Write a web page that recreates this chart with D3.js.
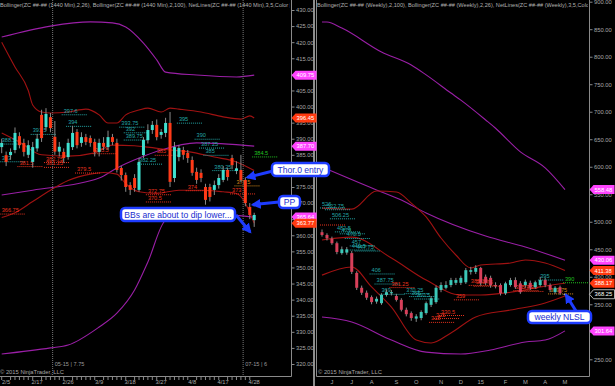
<!DOCTYPE html>
<html><head><meta charset="utf-8">
<script src="https://cdn.jsdelivr.net/npm/d3@7"></script>
<style>
body{margin:0;background:#000;}
svg{display:block;font-family:"Liberation Sans",Arial,sans-serif;}
</style></head>
<body><svg id="chart" width="615" height="386"></svg>
<script>
// ---- daily (1440 min) panel ----
const days = ['2/4','2/5','2/6','2/9','2/10','2/11','2/12','2/13','2/17','2/18','2/19','2/20','2/23','2/24','2/25','2/26','2/27',
  '3/2','3/3','3/4','3/5','3/6','3/9','3/10','3/11','3/12','3/13','3/16','3/17','3/18','3/19','3/20','3/23','3/24','3/25','3/26','3/27',
  '3/30','3/31','4/1','4/2','4/6','4/7','4/8','4/9','4/10','4/13','4/14','4/15','4/16','4/17','4/20','4/21','4/22','4/23','4/24','4/27','4/28'];
const dOpen  = [387.4,384.9,384.9,386.5,390.8,388.7,385,382.8,387,397.4,393.6,396.7,390.6,386,385.9,384.3,387.4,392.1,388.7,390.5,390.2,389,385.9,388.7,387.4,390.5,388.7,380.9,378.7,375.6,377.8,374.1,384.9,389.6,392.7,394.3,391.2,391.8,394.9,377.8,384.3,386.5,385.6,383.4,379.7,379.4,375,375,374.1,375.6,377.2,380.3,384,380,380.3,377.2,368.8,364.7];
const dHigh  = [390,386,387,393.5,392,390,389.5,389,391.5,399,399.5,398,395.5,389,387,390,394,393,392,391.5,391,390,390,390.5,392.5,391.5,390,381.5,379.5,376.5,379,384,390.5,394.5,395.5,396,393,396.5,398.3,389,388,387.5,386.5,384.5,381,380.5,376,376,377,379,381.5,381,385,383,385,378,370,367];
const dLow   = [385.5,381.5,383.5,385.5,387,384.5,384,381,386,389,392.5,392,385,384.5,382.5,383.5,386.5,387,387.5,388,387.5,384.5,384.5,386.5,386.5,388,379.5,377,373.5,372.5,373.5,373.5,384,388.5,391.5,389.5,390,390.5,375,376.5,383,383.5,382.5,378.5,376,376.5,369.5,370.5,372.5,374.5,376.5,377,380.5,379,376.5,369,365,362.6];
const dClose = [388.7,382.8,385.9,391.8,388,385.9,388,387.4,390,390.2,397.7,393.3,386,387.5,384,388.7,391.8,388,390.5,389,388.7,385.9,388.7,387.5,390.5,389,380.3,378.7,375,374.1,374.7,382.8,389.6,392.7,394.3,390.5,392.1,394.9,376.6,387.4,387.1,385,384,379.4,377.2,377.8,371,371.9,375.6,377.8,380.3,378.1,381.8,380.8,377.2,370,366.3,366.3];
const dayTicks = ['2/5','2/17','2/26','3/9','3/18','3/27','4/8','4/17','4/28'];
const rollAfter = ['2/20','4/23'];
const rollText = ['05-15 | 7.75','07-15 | 6'];

// bollinger knots, daily (bar index, value)
const d26UpIdx = [0,3,6,7,9,11,15,19,22,24,26,28,31,33,36,38,40,45,50,54,56,57];
const d26Up    = [420,412.3,405,400.5,398.3,398,398.3,399.2,397.4,394.9,394.9,397.4,398.9,399.5,398.3,399.5,399.2,398.3,396.8,396.1,397.1,396.45];
const d26MidIdx = [0,4,9,15,21,25,30,33,38,42,48,53,56,57];
const d26Mid    = [391.8,389,385,384.6,385.6,388,387.8,387.4,386.5,386,384.3,382.8,380.8,380.1];
const d26LoIdx = [0,3,7,11,15,20,23,26,28,31,35,40,45,50,53,55,56,57];
const d26Lo    = [365.5,367,370.5,374,377,379,379.5,379,376,373.5,373,374,374,373.5,373,370,367,363.77];
const d100UpIdx = [0,11,20,25,28,32,35,37,44,53,57];
const d100Up    = [421.6,425,426.3,426,424.7,419.7,414.5,410.7,409.8,409.2,409.75];
const d100MidIdx = [0,7,22,26,31,36,44,57];
const d100Mid    = [372.5,374,377.8,380.9,384,386.5,388.7,387.7];
const d100LoIdx = [0,11,15,22,26,30,33,37,40,45,50,57];
const d100Lo    = [323.1,325,325.9,331.5,335.8,343,351.7,364.7,366,367,366.5,365.64];

// net lines, daily
const dNetVal   = [397.6,394,391.5,393.75,392,389.75,395,390,387.25,385,382.25,380.25,388.5,383,
                   381.5,382.75,381.25,385.5,379.5,385,372.75,370.5,374,373,366.75,375.5,384.5];
const dNetStart = [14,15,7,27,28,28,40,44,45,46,31,48,0,0,
                   4,10,10,21,17,35,33,33,42,52,0,53,57];
const dNetKind  = ['r','r','r','r','r','r','r','r','r','r','r','r','r','r',
                   's','s','s','s','s','s','s','s','s','s','s','o','g'];

// ---- weekly panel ----
const weeks = ['2014-05-23','2014-05-30','2014-06-06','2014-06-13','2014-06-20','2014-06-27','2014-07-04','2014-07-11','2014-07-18','2014-07-25',
  '2014-08-01','2014-08-08','2014-08-15','2014-08-22','2014-08-29','2014-09-05','2014-09-12','2014-09-19','2014-09-26','2014-10-03',
  '2014-10-10','2014-10-17','2014-10-24','2014-10-31','2014-11-07','2014-11-14','2014-11-21','2014-11-28','2014-12-05','2014-12-12',
  '2014-12-19','2014-12-26','2015-01-02','2015-01-09','2015-01-16','2015-01-23','2015-01-30','2015-02-06','2015-02-13','2015-02-20',
  '2015-02-27','2015-03-06','2015-03-13','2015-03-20','2015-03-27','2015-04-03','2015-04-10','2015-04-17','2015-04-24','2015-05-01'];
const wOpen  = [481,476,469,461,443,444,443,407,380,371,363,355,352,367,370,365,358,340,334,324,325,334,349,354,376,380,385,389,389,390,409,409,416,400,398,385,385,370,385,394,388,385,389,381,385,394,385,372,381,368.5];
const wHigh  = [486,479,473,464,455,454,447,410,384,375,366,364,370,377,376,369,361,344,337,332,339,355,365,384,390,392,398,398,402,416,418,421,418,404,402,390,388,391,398,399,392,395,393,393,400,398,388,383,384,370];
const wLow   = [473,466,458,441,440,440,405,376,367,358,350,351,349,364,366,355,337,328,320,318,321,331,345,351,372,377,381,385,385,387,404,405,384,385,380,379,366,367,382,378,369,380,376,378,382,381,372,369,367,366];
const wClose = [476,470,461,445,450,450,409,380,371,362,354,360,367,372,372,358,340,332,325,328,336,352,361,380,385,385,394,394,398,412,412,416,389,389,385,383,370,388,394,381,372,391,380,390,394,385,376,380,370,368.25];
const monthTickWeeks  = ['2014-06-06','2014-07-04','2014-08-01','2014-09-05','2014-10-03','2014-11-07','2014-12-05','2015-01-02','2015-02-06','2015-03-06','2015-04-03','2015-05-01'];
const monthTickLabels = ['J','J','A','S','O','N','D','15','F','M','A','M'];

const w100UpIdx = [0,1,4,12,18,21,26,28,33,35,40,45,49];
const w100Up    = [863,863,852,808.6,785,767,734,721,685,670,627,598,558.48];
const w100MidIdx = [0,11,16,21,33,41,49];
const w100Mid    = [599.5,557.8,539.6,516,474,454.2,430.06];
const w100LoIdx = [0,6,14,21,28,34,41,45,49];
const w100Lo    = [326.9,317.8,285,263,259.6,267,281.5,285,301.64];
const w26UpIdx = [0,6,11,15,18,21,24,27,30,32,38,41,45,49];
const w26Up    = [524.8,523,556,554,534,508.7,470.5,439.6,416,421.4,425,430.5,425,411.38];
const w26MidIdx = [0,6,14,21,28,32,38,45,49];
const w26Mid    = [466.9,472,434,394,367,367,372,383,388.17];
const w26LoIdx = [0,6,10,14,19,22,26,31,38,45,49];
const w26Lo    = [403,417.8,381.5,345,285,279.7,297.9,327,339.6,352.4,364.96];

const wNetVal   = [526,522.75,506.25,482.5,479,470.5,457,449.5,447.75,406,387.75,369,370.25,365,360.5,395,
                   495,381.25,330.5,325,318,359,385.25,383.75,375.75,374.25,369.75,390];
const wNetStart = [0,1,2,3,4,5,6,6,7,10,11,12,17,18,19,44,
                   0,14,24,23,22,27,30,31,39,40,46,49];
const wNetKind  = ['r','r','r','r','r','r','r','r','r','r','r','r','r','r','r','r',
                   's','s','s','s','s','s','s','s','s','s','o','g'];
const wNetShowLabel = wNetVal.map((v, i) => i !== 16);

// ---- drawing ----
const svg = d3.select('#chart');
const defs = svg.append('defs');
defs.append('clipPath').attr('id', 'clipL').append('rect').attr('x', 0).attr('y', 0).attr('width', 290).attr('height', 376);
defs.append('clipPath').attr('id', 'clipR').append('rect').attr('x', 316).attr('y', 0).attr('width', 272).attr('height', 376);
defs.append('marker').attr('id', 'arr').attr('viewBox', '0 0 10 10').attr('refX', 8).attr('refY', 5)
  .attr('markerWidth', 10).attr('markerHeight', 10).attr('markerUnits', 'userSpaceOnUse').attr('orient', 'auto')
  .append('path').attr('d', 'M0,0 L10,5 L0,10 Z').attr('fill', '#1e3cff');

svg.append('rect').attr('width', 615).attr('height', 386).attr('fill', '#000');

const xL = d3.scalePoint().domain(days).range([1.7, 254.2]);
const yL = d3.scaleLinear().domain([320, 430]).range([364, 10]);
const xR = d3.scalePoint().domain(weeks).range([322, 565]);
const yR = d3.scaleLinear().domain([250, 900]).range([359.3, 1.7]);

const netColor = {r: '#23a6a6', s: '#e8321e', o: '#d88a1a', g: '#20c020'};
const upCol = '#3fe0d0', dnCol = '#ff3a18';
const upColW = '#3cc8b8', dnColW = '#d8405a';

function drawPanel(cfg) {
  const g = svg.append('g').attr('clip-path', `url(#${cfg.clip})`);
  const {x, y, cats} = cfg;
  const xi = i => x(cats[i]);

  // bands
  const band = (idx, vals, col) => {
    const pts = idx.map((i, k) => [xi(i), y(vals[k])]);
    g.append('path').attr('d', d3.line().curve(d3.curveMonotoneX)(pts))
      .attr('fill', 'none').attr('stroke', col).attr('stroke-width', 1.1);
  };
  cfg.bands.forEach(b => band(b[0], b[1], b[2]));

  // net lines
  cfg.net.val.forEach((v, i) => {
    const x0 = xi(cfg.net.start[i]) - 2;
    const col = netColor[cfg.net.kind[i]];
    g.append('line').attr('x1', x0).attr('x2', x0 + 26).attr('y1', y(v) + 0.5).attr('y2', y(v) + 0.5)
      .attr('stroke', col).attr('stroke-width', 1).attr('stroke-dasharray', '1,1');
    if (!cfg.net.show || cfg.net.show[i])
      g.append('text').attr('x', x0 + 2).attr('y', y(v) - 1.5).text(v)
        .attr('fill', col).attr('font-size', 5.6);
  });

  // candles
  cats.forEach((c, i) => {
    const o = cfg.o[i], h = cfg.h[i], l = cfg.l[i], cl = cfg.c[i];
    const up = cl > o, flat = Math.abs(cl - o) < 0.5;
    const col = flat ? '#aaa' : (up ? cfg.up : cfg.dn);
    g.append('line').attr('x1', x(c)).attr('x2', x(c)).attr('y1', y(h)).attr('y2', y(l))
      .attr('stroke', '#8a8a8a').attr('stroke-width', 1);
    const top = y(Math.max(o, cl)), bot = y(Math.min(o, cl));
    g.append('rect').attr('x', x(c) - 1.5).attr('y', top).attr('width', 3).attr('height', Math.max(1, bot - top))
      .attr('fill', col);
  });
  return g;
}

// left panel
const gL = drawPanel({
  clip: 'clipL', x: xL, y: yL, cats: days, o: dOpen, h: dHigh, l: dLow, c: dClose, up: upCol, dn: dnCol,
  bands: [[d100UpIdx, d100Up, '#9a1fa6'], [d100MidIdx, d100Mid, '#9a1fa6'], [d100LoIdx, d100Lo, '#9a1fa6'],
          [d26UpIdx, d26Up, '#a01212'], [d26MidIdx, d26Mid, '#a01212'], [d26LoIdx, d26Lo, '#a01212']],
  net: {val: dNetVal, start: dNetStart, kind: dNetKind}
});
// contract roll lines
rollAfter.forEach((d, k) => {
  const i = days.indexOf(d);
  const xx = (xL(days[i]) + xL(days[i + 1])) / 2;
  gL.append('line').attr('x1', xx).attr('x2', xx).attr('y1', 0).attr('y2', 376)
    .attr('stroke', '#777').attr('stroke-dasharray', '1,1');
  gL.append('text').attr('x', xx + 2).attr('y', 366).text(rollText[k]).attr('fill', '#999').attr('font-size', 5.6);
});

// right panel
drawPanel({
  clip: 'clipR', x: xR, y: yR, cats: weeks, o: wOpen, h: wHigh, l: wLow, c: wClose, up: upColW, dn: dnColW,
  bands: [[w100UpIdx, w100Up, '#9a1fa6'], [w100MidIdx, w100Mid, '#9a1fa6'], [w100LoIdx, w100Lo, '#9a1fa6'],
          [w26UpIdx, w26Up, '#a01212'], [w26MidIdx, w26Mid, '#a01212'], [w26LoIdx, w26Lo, '#a01212']],
  net: {val: wNetVal, start: wNetStart, kind: wNetKind, show: wNetShowLabel}
});

// frames
const frame = svg.append('g').attr('stroke', '#8a8a8a').attr('stroke-width', 1).attr('fill', 'none');
frame.append('path').attr('d', 'M0,376.5 H291.5 V0');
frame.append('path').attr('d', 'M316.5,0 V376.5 H589.5 V0');
svg.append('line').attr('x1', 314).attr('x2', 314).attr('y1', 0).attr('y2', 386).attr('stroke', '#bbb').attr('stroke-width', 1.5);

// y axes
const axL = svg.append('g').attr('transform', 'translate(291.5,0)')
  .call(d3.axisRight(yL).tickValues(d3.range(320, 431, 5)).tickFormat(d3.format('.2f')).tickSize(3).tickPadding(1.5));
const axR = svg.append('g').attr('transform', 'translate(589.5,0)')
  .call(d3.axisRight(yR).tickValues(d3.range(250, 901, 50)).tickFormat(d3.format('.2f')).tickSize(3).tickPadding(1.5));
[axL, axR].forEach(a => {
  a.select('.domain').remove();
  a.selectAll('line').attr('stroke', '#8a8a8a');
  a.selectAll('text').attr('fill', '#a8a8a8').attr('font-size', 5.8).attr('font-family', '"Liberation Sans",Arial,sans-serif');
});

// x axes
const axXL = svg.append('g');
days.forEach(d => {
  if (dayTicks.includes(d)) return;
  axXL.append('line').attr('x1', xL(d)).attr('x2', xL(d)).attr('y1', 377).attr('y2', 380).attr('stroke', '#8a8a8a');
});
dayTicks.forEach(d => axXL.append('text').attr('x', xL(d)).attr('y', 384).attr('text-anchor', 'middle')
  .text(d).attr('fill', '#a8a8a8').attr('font-size', 5.8));
monthTickWeeks.forEach((w, k) => svg.append('text').attr('x', xR(w)).attr('y', 384).attr('text-anchor', 'middle')
  .text(monthTickLabels[k]).attr('fill', '#a8a8a8').attr('font-size', 5.8));

// headers and copyright
svg.append('text').attr('clip-path', 'url(#clipL)').attr('x', 0).attr('y', 7)
  .text('Bollinger(ZC ##-## (1440 Min),2,26), Bollinger(ZC ##-## (1440 Min),2,100), NetLines(ZC ##-## (1440 Min),3,5,Color [Lime]')
  .attr('fill', '#b0b0b0').attr('font-size', 5.6);
svg.append('text').attr('clip-path', 'url(#clipR)').attr('x', 317).attr('y', 7)
  .text('Bollinger(ZC ##-## (Weekly),2,100), Bollinger(ZC ##-## (Weekly),2,26), NetLines(ZC ##-## (Weekly),3,5,Color [Lime]')
  .attr('fill', '#b0b0b0').attr('font-size', 5.6);
svg.append('text').attr('x', 0).attr('y', 374).text('© 2015 NinjaTrader, LLC').attr('fill', '#a8a8a8').attr('font-size', 5.8);
svg.append('text').attr('x', 318).attr('y', 374).text('© 2015 NinjaTrader, LLC').attr('fill', '#a8a8a8').attr('font-size', 5.8);

// price tags
function tag(x, y, val, fill, txt, stroke) {
  const w = 25, h = 9;
  svg.append('path').attr('d', `M${x},${y} L${x + 4},${y - h / 2} L${x + w},${y - h / 2} L${x + w},${y + h / 2} L${x + 4},${y + h / 2} Z`)
    .attr('fill', fill).attr('stroke', stroke || 'none').attr('stroke-width', 0.8);
  svg.append('text').attr('x', x + 5).attr('y', y + 2.1).text(d3.format('.2f')(val)).attr('fill', txt).attr('font-size', 5.8);
}
tag(291.5, yL(409.75), 409.75, '#ff44ff', '#fff');
tag(291.5, yL(396.45), 396.45, '#ff3a10', '#fff');
tag(291.5, yL(387.70), 387.70, '#ff44ff', '#fff');
tag(291.5, yL(365.64), 365.64, '#ff44ff', '#fff');
tag(291.5, yL(363.77), 363.77, '#ff3a10', '#fff');
tag(589.5, yR(558.48), 558.48, '#ff44ff', '#fff');
tag(589.5, yR(430.06), 430.06, '#ff44ff', '#fff');
tag(589.5, yR(411.38), 411.38, '#ff3a10', '#fff');
tag(589.5, yR(388.17), 388.17, '#ff3a10', '#fff');
tag(589.5, yR(368.25), 368.25, '#000', '#fff', '#ddd');
tag(589.5, yR(301.64), 301.64, '#ff44ff', '#fff');

// callouts
const blue = '#1e3cff';
function arrow(x1, y1, x2, y2) {
  svg.append('line').attr('x1', x1).attr('y1', y1).attr('x2', x2).attr('y2', y2)
    .attr('stroke', blue).attr('stroke-width', 3).attr('marker-end', 'url(#arr)');
}
function callout(x, y, w, h, text) {
  svg.append('rect').attr('x', x).attr('y', y).attr('width', w).attr('height', h).attr('rx', 4)
    .attr('fill', '#fff').attr('stroke', blue).attr('stroke-width', 2.5);
  svg.append('text').attr('x', x + w / 2).attr('y', y + h / 2 + 3).attr('text-anchor', 'middle')
    .text(text).attr('fill', '#1a2ed0').attr('font-size', 8.6);
}
arrow(273, 171, xL('4/24') + 2, yL(378));
arrow(279, 202, xL('4/27') + 3, yL(369.5));
arrow(236, 215, xL('4/28') - 4, yL(361));
arrow(576, 311, xR('2015-05-01') + 1, yR(367));
callout(272, 163, 57, 13, 'Thor.0 entry');
callout(279, 196, 21, 12, 'PP');
callout(121, 208, 114, 13, 'BBs are about to dip lower...');
callout(528, 311, 63, 12, 'weekly NLSL');
</script>
</body></html>
